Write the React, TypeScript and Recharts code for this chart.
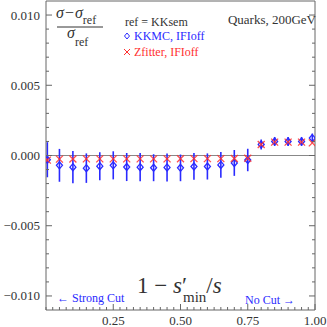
import { ScatterChart, Scatter, XAxis, YAxis, ErrorBar, ReferenceLine } from 'recharts';

// 1 - s'min/s
const xValues = [
  0.005, 0.05, 0.1, 0.15, 0.2, 0.25, 0.3, 0.35, 0.4, 0.45, 0.5, 0.55, 0.6, 0.65, 0.7, 0.75,
  0.8, 0.85, 0.9, 0.95, 0.99,
];

// KKMC, IFIoff (blue diamonds)
const kkmcValues = [
  -0.0003, -0.0007, -0.00083, -0.0009, -0.00076, -0.0007, -0.00082, -0.00083, -0.00087,
  -0.00085, -0.00088, -0.00078, -0.00078, -0.00067, -0.00053, -0.00032, 0.00078, 0.001,
  0.001, 0.001, 0.00124,
];
const kkmcErrors = [
  0.00125, 0.00117, 0.00115, 0.00105, 0.001, 0.001, 0.001, 0.001, 0.00096, 0.001, 0.00095,
  0.00095, 0.00093, 0.00092, 0.00092, 0.0008, 0.00036, 0.00032, 0.00032, 0.00032, 0.00032,
];

// Zfitter, IFIoff (red crosses)
const zfitterValues = [
  -0.00033, -0.00026, -0.00025, -0.00024, -0.00024, -0.00024, -0.00024, -0.00024, -0.00024,
  -0.00024, -0.00023, -0.00022, -0.00022, -0.00022, -0.00021, -0.0002, 0.00078, 0.00095,
  0.00095, 0.00095, 0.0009,
];

const xMajorTicks = [0.25, 0.5, 0.75, 1.0];
const xTickLabels = ['0.25', '0.50', '0.75', '1.00'];
const yMajorTicks = [-0.01, -0.005, 0, 0.005, 0.01];
const yTickLabels = ['\u22120.010', '\u22120.005', '0.000', '0.005', '0.010'];

// minor ticks: every 0.025 on x, every 0.001 on y
const xTicks = Array.from({ length: 41 }, (_, i) => Math.round(i * 25) / 1000);
const yTicks = Array.from({ length: 21 }, (_, i) => Math.round((i - 10) * 10) / 10000);

const BLUE = '#2a2aff';
const RED = '#ff3030';
const AXIS = '#666';
const TEXT = '#333';
const FONT = "'Liberation Serif', 'Times New Roman', serif";

const kkData = xValues.map((x, i) => ({ x, y: kkmcValues[i], err: kkmcErrors[i] }));
const zfData = xValues.map((x, i) => ({ x, y: zfitterValues[i] }));

const near = (a: number, b: number) => Math.abs(a - b) < 1e-7;

const XTick = (props: any) => {
  const { x, y, payload, side } = props;
  const v = payload.value;
  const idx = xMajorTicks.findIndex((m) => near(m, v));
  const len = idx >= 0 ? 6 : 3;
  const dir = side === 'bottom' ? -1 : 1;
  return (
    <g>
      <line x1={x} x2={x} y1={y} y2={y + dir * len} stroke={AXIS} strokeWidth={1} />
      {side === 'bottom' && idx >= 0 && (
        <text x={x} y={y + 15} textAnchor='middle' fontSize={13} fill={TEXT} fontFamily={FONT}>
          {xTickLabels[idx]}
        </text>
      )}
    </g>
  );
};

const YTick = (props: any) => {
  const { x, y, payload, side } = props;
  const v = payload.value;
  const idx = yMajorTicks.findIndex((m) => near(m, v));
  const len = idx >= 0 ? 6 : 3;
  const dir = side === 'left' ? 1 : -1;
  return (
    <g>
      <line x1={x} x2={x + dir * len} y1={y} y2={y} stroke={AXIS} strokeWidth={1} />
      {side === 'left' && idx >= 0 && (
        <text x={x - 6} y={y + 4.5} textAnchor='end' fontSize={13} fill={TEXT} fontFamily={FONT}>
          {yTickLabels[idx]}
        </text>
      )}
    </g>
  );
};

const Diamond = (props: any) => {
  const { cx, cy } = props;
  return (
    <path
      d={`M${cx},${cy - 3.5} L${cx + 3},${cy} L${cx},${cy + 3.5} L${cx - 3},${cy} Z`}
      fill='none'
      stroke={BLUE}
      strokeWidth={1.3}
    />
  );
};

const Cross = (props: any) => {
  const { cx, cy } = props;
  return (
    <path
      d={`M${cx - 3.5},${cy - 3.5} L${cx + 3.5},${cy + 3.5} M${cx + 3.5},${cy - 3.5} L${cx - 3.5},${cy + 3.5}`}
      stroke={RED}
      strokeWidth={1.3}
      opacity={0.85}
    />
  );
};

const App = () => {
  return (
    <div style={{ position: 'absolute', left: 0, top: 0, width: 327, height: 327, background: '#fff' }}>
      <ScatterChart width={327} height={327} margin={{ top: 0, right: 0, bottom: 0, left: 0 }}>
        <XAxis
          dataKey='x'
          type='number'
          domain={[0, 1]}
          ticks={xTicks}
          interval={0}
          height={17}
          allowDataOverflow
          stroke={AXIS}
          tickSize={0}
          tickMargin={0}
          tickLine={false}
          tick={(p: any) => <XTick {...p} side='bottom' />}
        />
        <XAxis
          xAxisId='top'
          orientation='top'
          type='number'
          domain={[0, 1]}
          ticks={xTicks}
          interval={0}
          height={1}
          allowDataOverflow
          stroke={AXIS}
          tickSize={0}
          tickMargin={0}
          tickLine={false}
          tick={(p: any) => <XTick {...p} side='top' />}
        />
        <YAxis
          dataKey='y'
          type='number'
          domain={[-0.011, 0.011]}
          ticks={yTicks}
          interval={0}
          width={46}
          allowDataOverflow
          stroke={AXIS}
          tickSize={0}
          tickMargin={0}
          tickLine={false}
          tick={(p: any) => <YTick {...p} side='left' />}
        />
        <YAxis
          yAxisId='right'
          orientation='right'
          type='number'
          domain={[-0.011, 0.011]}
          ticks={yTicks}
          interval={0}
          width={12}
          allowDataOverflow
          stroke={AXIS}
          tickSize={0}
          tickMargin={0}
          tickLine={false}
          tick={(p: any) => <YTick {...p} side='right' />}
        />
        <ReferenceLine y={0} stroke='#888' strokeWidth={1} />
        <Scatter data={kkData} shape={Diamond} isAnimationActive={false}>
          <ErrorBar dataKey='err' direction='y' width={0} stroke={BLUE} strokeWidth={1.6} isAnimationActive={false} />
        </Scatter>
        <Scatter data={zfData} shape={Cross} isAnimationActive={false} />
      </ScatterChart>

      {/* texts on the plot */}
      <svg
        width={327}
        height={327}
        style={{ position: 'absolute', left: 0, top: 0, pointerEvents: 'none' }}
        fontFamily={FONT}
      >
        <text x={56} y={18} fontSize={16} fill={TEXT}>
          <tspan fontStyle='italic'>σ</tspan>
          <tspan dx={1}>−</tspan>
          <tspan dx={1} fontStyle='italic'>σ</tspan>
          <tspan fontSize={12} dy={6}>ref</tspan>
        </text>
        <line x1={57} x2={103} y1={27} y2={27} stroke={TEXT} strokeWidth={1} />
        <text x={67} y={38} fontSize={16} fill={TEXT}>
          <tspan fontStyle='italic'>σ</tspan>
          <tspan fontSize={12} dy={8}>ref</tspan>
        </text>

        <text x={125} y={26} fontSize={12} fill={TEXT}>ref = KKsem</text>
        <path d='M127,33 L129.5,36 L127,39 L124.5,36 Z' fill='none' stroke={BLUE} strokeWidth={1} />
        <text x={134} y={40} fontSize={12} fill={BLUE}>KKMC, IFIoff</text>
        <path d='M124,49 L130,55 M130,49 L124,55' stroke={RED} strokeWidth={1} />
        <text x={134} y={56} fontSize={12} fill={RED}>Zfitter, IFIoff</text>

        <text x={316} y={24} fontSize={13} fill={TEXT} textAnchor='end'>Quarks, 200GeV</text>

        <text x={137} y={293} fontSize={23} fill={TEXT}>
          <tspan>1 − </tspan>
          <tspan fontStyle='italic'>s</tspan>
          <tspan>′</tspan>
          <tspan fontSize={15} dx={-4} dy={9}>min</tspan>
          <tspan dy={-9}>/</tspan>
          <tspan fontStyle='italic'>s</tspan>
        </text>

        <text x={57} y={302} fontSize={12} fill={BLUE}>← Strong Cut</text>
        <text x={245} y={304} fontSize={12} fill={BLUE}>No Cut →</text>
      </svg>
    </div>
  );
};

export default App;
